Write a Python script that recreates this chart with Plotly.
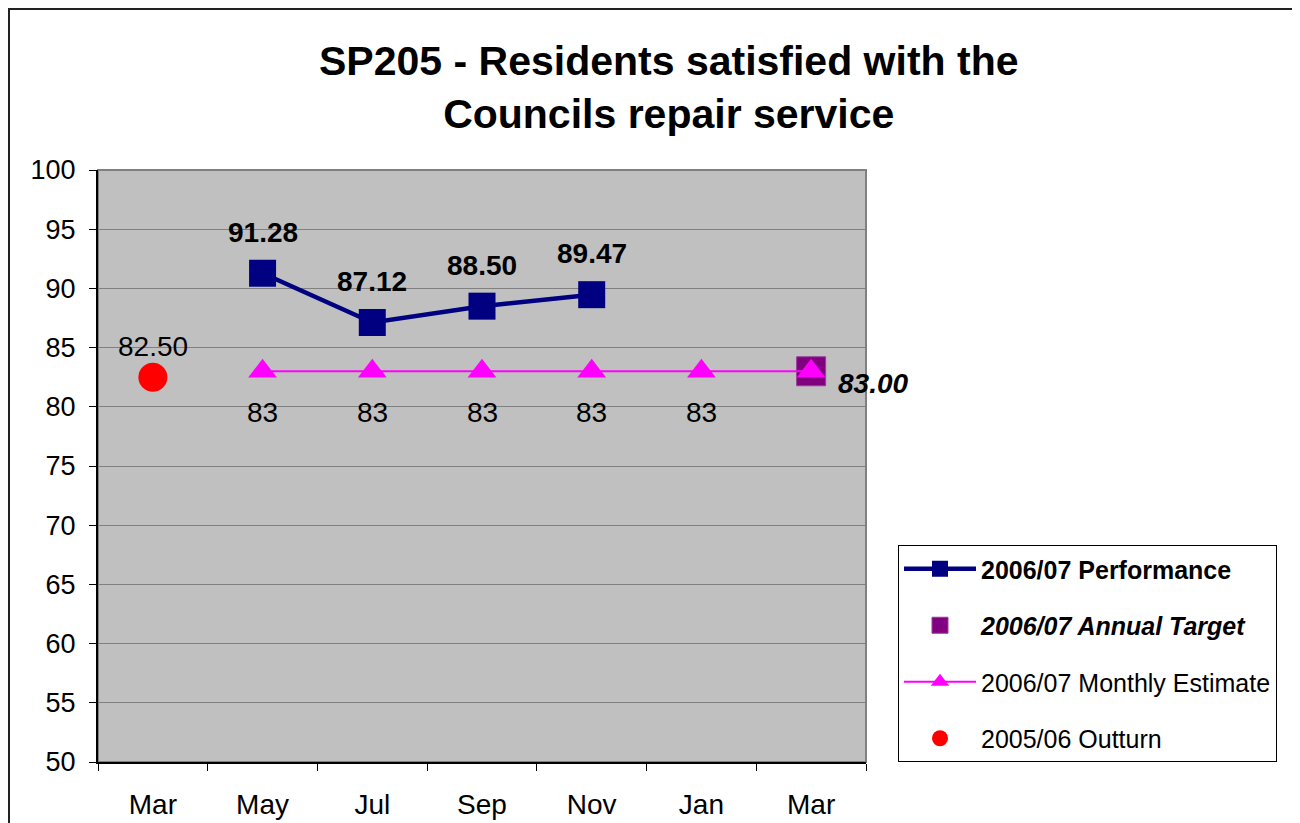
import plotly.graph_objects as go

# category labels (first "Mar" is the 2005/06 year end, last is 2006/07 year end)
months = ["Mar", "May", "Jul", "Sep", "Nov", "Jan", "Mar"]
pos = list(range(len(months)))

outturn_x = [0]
outturn_y = [82.50]

perf_x = [1, 2, 3, 4]
perf_y = [91.28, 87.12, 88.50, 89.47]

estimate_x = [1, 2, 3, 4, 5, 6]
estimate_y = [83, 83, 83, 83, 83, 83]
estimate_lbl = ["83", "83", "83", "83", "83", ""]

target_x = [6]
target_y = [83.00]

FONT = "Liberation Sans, Arial, sans-serif"

# page body has an 8px margin, so the figure is laid out in its own coords
W, H = 1292, 815
L, T, PW, PH = 90, 162, 768, 592

fig = go.Figure()

fig.add_trace(go.Scatter(
    x=perf_x, y=perf_y, mode="lines+markers",
    name="<b>2006/07 Performance</b>", legendgroup="a",
    line=dict(color="#000080", width=4.5),
    marker=dict(symbol="square", size=27, color="#000080"),
))
fig.add_trace(go.Scatter(
    x=target_x, y=target_y, mode="markers",
    name="<b><i>2006/07 Annual Target</i></b>", legendgroup="b",
    marker=dict(symbol="square", size=29, color="#800080",
                line=dict(color="#9a3d9a", width=1)),
))
fig.add_trace(go.Scatter(
    x=estimate_x, y=estimate_y, mode="lines+markers",
    name="2006/07 Monthly Estimate", legendgroup="c",
    line=dict(color="#FF00FF", width=2),
    marker=dict(symbol="triangle-up", size=25, color="#FF00FF"),
))
fig.add_trace(go.Scatter(
    x=outturn_x, y=outturn_y, mode="markers",
    name="2005/06 Outturn", legendgroup="d",
    marker=dict(symbol="circle", size=29, color="#FF0000"),
))

# data labels
for x, y in zip(perf_x, perf_y):
    fig.add_annotation(x=x, y=y, text=f"<b>{y:.2f}</b>", showarrow=False,
                       yshift=41, font=dict(size=28, color="black", family=FONT))
for x, y, t in zip(estimate_x, estimate_y, estimate_lbl):
    if t:
        fig.add_annotation(x=x, y=y, text=t, showarrow=False,
                           yshift=-41, font=dict(size=28, color="black", family=FONT))
for x, y in zip(outturn_x, outturn_y):
    fig.add_annotation(x=x, y=y, text=f"{y:.2f}", showarrow=False,
                       yshift=31, font=dict(size=28, color="black", family=FONT))
for x, y in zip(target_x, target_y):
    fig.add_annotation(x=x, y=y, text=f"<b><i>{y:.2f}</i></b>", showarrow=False,
                       xanchor="left", xshift=25, yshift=-12,
                       font=dict(size=28, color="black", family=FONT))

# title
fig.add_annotation(
    xref="paper", yref="paper", x=(660 - L) / PW, y=(T + PH - 80) / PH,
    text="<b>SP205 - Residents satisfied with the<br>Councils repair service</b>",
    showarrow=False, xanchor="center", yanchor="middle",
    font=dict(size=41, color="black", family=FONT),
)

# outer chart border and plot-area frame
fig.add_shape(type="rect", xref="paper", yref="paper",
              x0=(1 - L) / PW, x1=1.8, y0=-0.3, y1=(T + PH - 1) / PH,
              line=dict(color="#222222", width=2))
fig.add_shape(type="rect", xref="paper", yref="paper", x0=0, x1=1, y0=0, y1=1,
              line=dict(color="#808080", width=2), layer="below")

fig.update_layout(
    width=W, height=H,
    margin=dict(l=L, r=W - L - PW, t=T, b=H - T - PH),
    paper_bgcolor="white", plot_bgcolor="#C0C0C0",
    font=dict(family=FONT, size=24, color="black"),
    showlegend=True,
    legend=dict(
        x=(890 - L) / PW, y=0, xanchor="left", yanchor="bottom",
        bgcolor="white", bordercolor="black", borderwidth=1,
        font=dict(size=25, family=FONT, color="black"),
        traceorder="grouped", tracegroupgap=21, itemwidth=72,
    ),
)

fig.update_xaxes(
    range=[-0.5, 6.5], tickmode="array", tickvals=pos, ticktext=months,
    ticks="outside", ticklen=16, tickcolor="rgba(0,0,0,0)",
    showgrid=False, zeroline=False, automargin=False,
    showline=True, linecolor="black", linewidth=2,
    tickfont=dict(size=28),
    minor=dict(tickmode="array", tickvals=[p - 0.5 for p in pos] + [6.5],
               ticks="outside", ticklen=7, tickcolor="black", tickwidth=1,
               showgrid=False),
)
fig.update_yaxes(
    range=[50, 100], dtick=5, tick0=50,
    ticks="outside", ticklen=7, tickcolor="black",
    showgrid=True, gridcolor="#808080", gridwidth=1,
    zeroline=False, showline=True, linecolor="black", linewidth=2,
    automargin=False,
    tickfont=dict(size=27), ticklabelstandoff=8,
)

fig.write_html("out.html")
